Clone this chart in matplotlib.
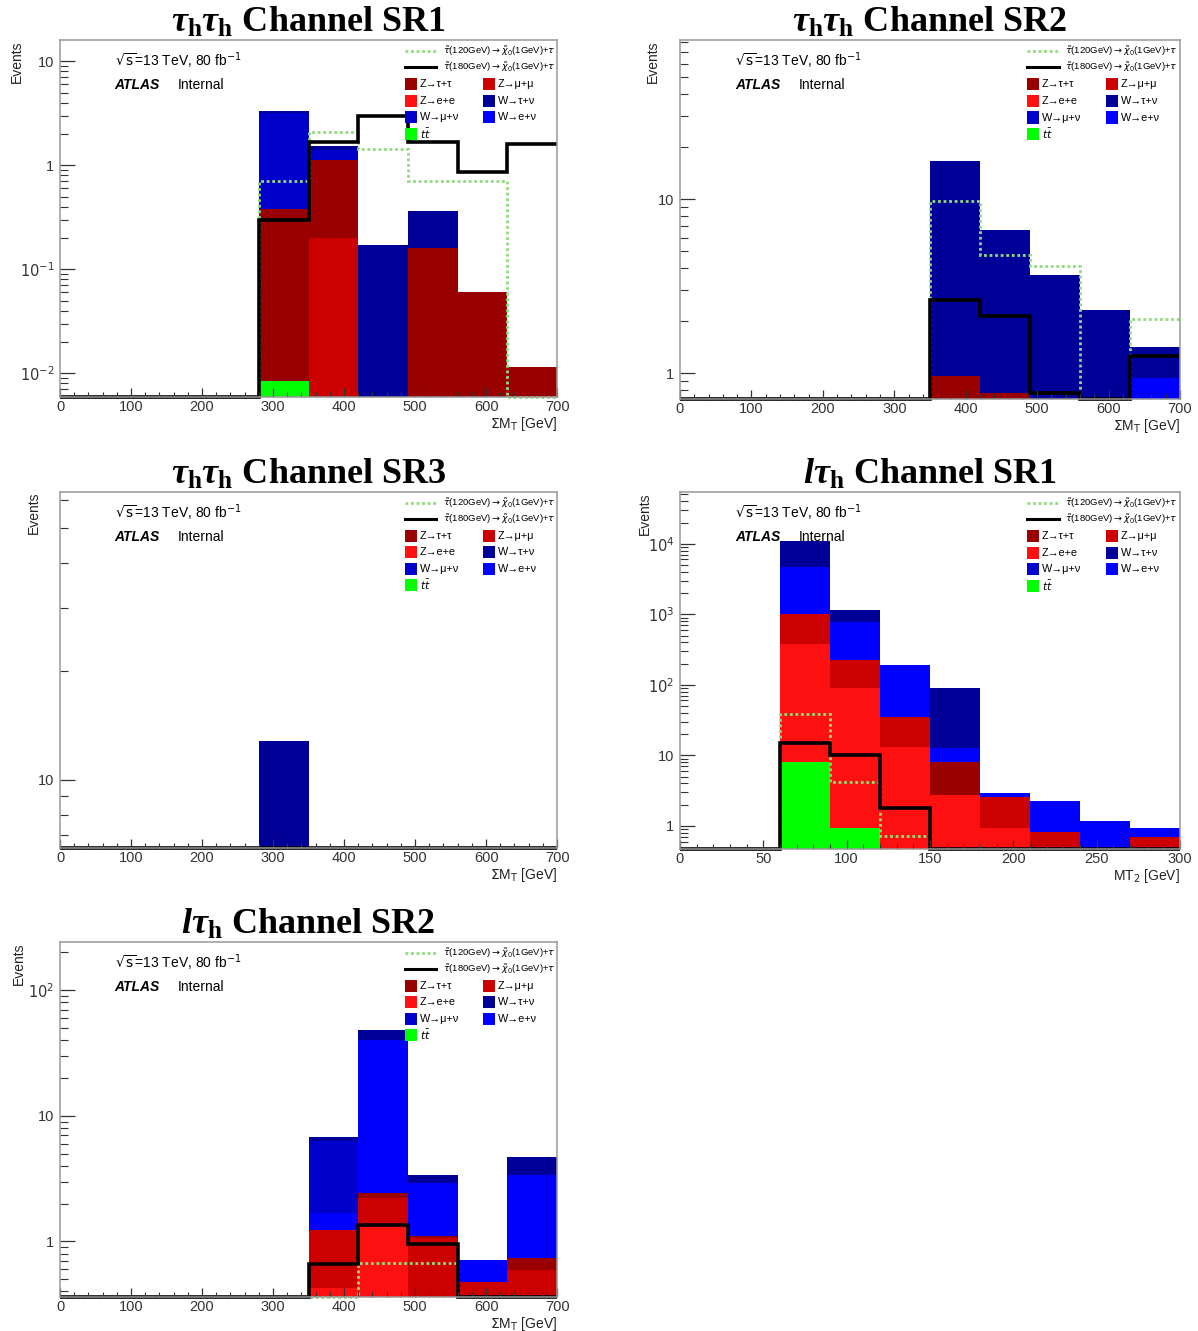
"""Stacked background + signal histograms, ATLAS internal style (5 panels)."""
import numpy as np
import matplotlib
matplotlib.use("Agg")
import matplotlib.pyplot as plt
from matplotlib.patches import Rectangle
from matplotlib.lines import Line2D
from matplotlib.ticker import LogLocator, FuncFormatter, NullFormatter, MultipleLocator

plt.rcParams["font.family"] = ["Liberation Sans", "DejaVu Sans"]
plt.rcParams["mathtext.fontset"] = "dejavusans"
# only used by the titles (math_fontfamily="custom")
plt.rcParams["mathtext.rm"] = "Liberation Serif:bold"
plt.rcParams["mathtext.it"] = "Liberation Serif:italic:bold"
plt.rcParams["mathtext.bf"] = "Liberation Serif:bold"

# ---------------------------------------------------------------- data
summt_edges = np.arange(0, 701, 70)   # ΣM_T binning
mt2_edges = np.arange(0, 301, 30)     # MT2 binning

# stack order bottom -> top: ttbar, Z->ee, Z->mumu, Z->tautau, W->enu, W->munu, W->taunu
# tau_h tau_h SR1
hh1_ttbar = [0, 0, 0, 0, 0.0085, 0, 0, 0, 0, 0]
hh1_zee = [0, 0, 0, 0, 0, 0, 0, 0, 0, 0]
hh1_zmumu = [0, 0, 0, 0, 0, 0.20, 0, 0, 0, 0]
hh1_ztautau = [0, 0, 0, 0, 0.37, 0.93, 0, 0.16, 0.060, 0.0114]
hh1_wenu = [0, 0, 0, 0, 0, 0, 0, 0, 0, 0]
hh1_wmunu = [0, 0, 0, 0, 2.77, 0.27, 0, 0, 0, 0]
hh1_wtaunu = [0, 0, 0, 0, 0.17, 0.12, 0.17, 0.20, 0, 0]
hh1_sig120 = [0, 0, 0, 0, 0.70, 2.10, 1.42, 0.70, 0.70, 0]
hh1_sig180 = [0, 0, 0, 0, 0.30, 1.67, 3.0, 1.67, 0.87, 1.60]

# tau_h tau_h SR2
hh2_ttbar = [0, 0, 0, 0, 0, 0, 0, 0, 0, 0]
hh2_zee = [0, 0, 0, 0, 0, 0, 0, 0, 0, 0]
hh2_zmumu = [0, 0, 0, 0, 0, 0, 0, 0, 0, 0]
hh2_ztautau = [0, 0, 0, 0, 0, 0.96, 0.77, 0, 0, 0]
hh2_wenu = [0, 0, 0, 0, 0, 0, 0, 0, 0, 0.94]
hh2_wmunu = [0, 0, 0, 0, 0, 0, 0, 0, 0, 0]
hh2_wtaunu = [0, 0, 0, 0, 0, 15.5, 5.9, 3.64, 2.31, 0.48]
hh2_sig120 = [0, 0, 0, 0, 0, 9.7, 4.8, 4.1, 0, 2.04]
hh2_sig180 = [0, 0, 0, 0, 0, 2.64, 2.12, 0.77, 0, 1.26]

# tau_h tau_h SR3
hh3_ttbar = [0, 0, 0, 0, 0, 0, 0, 0, 0, 0]
hh3_zee = [0, 0, 0, 0, 0, 0, 0, 0, 0, 0]
hh3_zmumu = [0, 0, 0, 0, 0, 0, 0, 0, 0, 0]
hh3_ztautau = [0, 0, 0, 0, 0, 0, 0, 0, 0, 0]
hh3_wenu = [0, 0, 0, 0, 0, 0, 0, 0, 0, 0]
hh3_wmunu = [0, 0, 0, 0, 0, 0, 0, 0, 0, 0]
hh3_wtaunu = [0, 0, 0, 0, 12.8, 0, 0, 0, 0, 0]
hh3_sig120 = [0, 0, 0, 0, 0, 0, 0, 0, 0, 0]
hh3_sig180 = [0, 0, 0, 0, 0, 0, 0, 0, 0, 0]

# l tau_h SR1 (MT2)
lh1_ttbar = [0, 0, 8.1, 0.93, 0, 0, 0, 0, 0, 0]
lh1_zee = [0, 0, 377, 88, 13.3, 2.75, 0.93, 0, 0, 0]
lh1_zmumu = [0, 0, 635, 139, 21.7, 0, 1.67, 0.83, 0, 0.69]
lh1_ztautau = [0, 0, 0, 0, 0, 5.35, 0, 0, 0, 0]
lh1_wenu = [0, 0, 3670, 552, 155, 4.5, 0.36, 1.45, 1.18, 0.24]
lh1_wmunu = [0, 0, 0, 0, 0, 0, 0, 0, 0, 0]
lh1_wtaunu = [0, 0, 6410, 360, 0, 76.4, 0, 0, 0, 0]
lh1_sig120 = [0, 0, 39, 4.24, 0.71, 0, 0, 0, 0, 0]
lh1_sig180 = [0, 0, 15.1, 10.0, 1.78, 0, 0, 0, 0, 0]

# l tau_h SR2
lh2_ttbar = [0, 0, 0, 0, 0, 0, 0, 0, 0, 0]
lh2_zee = [0, 0, 0, 0, 0, 0.43, 1.32, 0, 0, 0]
lh2_zmumu = [0, 0, 0, 0, 0, 0.81, 0.89, 1.06, 0.48, 0.595]
lh2_ztautau = [0, 0, 0, 0, 0, 0, 0.21, 0.05, 0, 0.142]
lh2_wenu = [0, 0, 0, 0, 0, 0.46, 37.6, 1.79, 0.235, 2.65]
lh2_wmunu = [0, 0, 0, 0, 0, 4.6, 0, 0, 0, 0]
lh2_wtaunu = [0, 0, 0, 0, 0, 0.5, 8.0, 0.49, 0, 1.35]
lh2_sig120 = [0, 0, 0, 0, 0, 0, 0.67, 0.67, 0, 0]
lh2_sig180 = [0, 0, 0, 0, 0, 0.66, 1.36, 0.96, 0, 0]

bkg_colors = ["#00ff00", "#ff1010", "#cc0000", "#990000", "#0000ff", "#0000cc", "#000099"]
legend_names = ["Z\u2192\u03c4+\u03c4", "Z\u2192\u03bc+\u03bc", "Z\u2192e+e", "W\u2192\u03c4+\u03bd",
                "W\u2192\u03bc+\u03bd", "W\u2192e+\u03bd", r"$t\bar{t}$"]
legend_colors = ["#990000", "#cc0000", "#ff1010", "#000099", "#0000cc", "#0000ff", "#00ff00"]
sig_green = "#8fdc7a"
label120 = r"$\tilde{\tau}$(120GeV)$\rightarrow\tilde{\chi}_0$(1GeV)+$\tau$"
label180 = r"$\tilde{\tau}$(180GeV)$\rightarrow\tilde{\chi}_0$(1GeV)+$\tau$"


def log_label(v, pos):
    n = int(round(np.log10(v)))
    if abs(v - 10.0 ** n) > 1e-6 * v:
        return ""
    if n == 0:
        return "1"
    if n == 1:
        return "10"
    return r"$10^{%d}$" % n


def draw_legend(ax):
    tr = ax.transAxes
    x0 = 0.694
    ax.add_line(Line2D([x0, x0 + 0.063], [0.969, 0.969], transform=tr, color=sig_green,
                       ls=(0, (1, 1)), lw=2))
    ax.add_line(Line2D([x0, x0 + 0.063], [0.924, 0.924], transform=tr, color="black", lw=2.2))
    ax.text(x0 + 0.076, 0.969, label120, transform=tr, fontsize=6.8, va="center")
    ax.text(x0 + 0.076, 0.924, label180, transform=tr, fontsize=6.8, va="center")
    for i, (name, col) in enumerate(zip(legend_names, legend_colors)):
        row, c = divmod(i, 2)
        x = x0 + c * 0.157
        y = 0.877 - row * 0.0465
        ax.add_patch(Rectangle((x, y - 0.017), 0.024, 0.034, transform=tr,
                               facecolor=col, edgecolor="none"))
        ax.text(x + 0.030, y, name, transform=tr, fontsize=7.8, va="center")


def draw_panel(rect, title, edges, comps, sig120, sig180, ylim, xlabel, ylab_x, xmajor, xminor):
    ax = fig.add_axes(rect)
    ax.set_yscale("log")
    width = np.diff(edges)
    bottom = np.zeros(len(edges) - 1)
    for vals, col in zip(comps, bkg_colors):
        vals = np.asarray(vals, float)
        ax.bar(edges[:-1], vals, width=width, bottom=bottom, align="edge",
               color=col, linewidth=0)
        bottom = bottom + vals
    ax.stairs(np.maximum(np.asarray(sig120, float), ylim[0]), edges, baseline=None,
              color=sig_green, ls=(0, (1, 1)), lw=2, clip_on=False)
    ax.stairs(np.maximum(np.asarray(sig180, float), ylim[0]), edges, baseline=None,
              color="black", lw=2.6, clip_on=False)

    ax.set_xlim(edges[0], edges[-1])
    ax.set_ylim(*ylim)
    ax.xaxis.set_major_locator(MultipleLocator(xmajor))
    ax.xaxis.set_minor_locator(MultipleLocator(xminor))
    ax.yaxis.set_major_locator(LogLocator(base=10))
    ax.yaxis.set_minor_locator(LogLocator(base=10, subs=np.arange(2, 10)))
    ax.yaxis.set_major_formatter(FuncFormatter(log_label))
    ax.yaxis.set_minor_formatter(NullFormatter())
    ax.tick_params(axis="x", which="major", direction="in", length=6.5, width=0.9,
                   labelsize=10.5, pad=2, colors="#333333")
    ax.tick_params(axis="x", which="minor", direction="in", length=3.3, width=0.8, colors="#333333")
    ax.tick_params(axis="y", which="major", direction="in", length=11, width=0.9,
                   labelsize=10.5, pad=4, colors="#333333")
    ax.tick_params(axis="y", which="minor", direction="in", length=5.5, width=0.8, colors="#333333")
    for sp in ax.spines.values():
        sp.set_color("#999999")
        sp.set_linewidth(1.1)

    ax.set_xlabel(xlabel, fontsize=10, loc="right", color="#222222")
    ax.xaxis.set_label_coords(1.0, -0.05)
    ax.set_ylabel("Events", fontsize=10, loc="top", color="#222222")
    ax.yaxis.set_label_coords(ylab_x, 1.0)

    ax.set_title(title, fontsize=26, fontfamily="Liberation Serif", fontweight="bold",
                 math_fontfamily="custom", pad=5)

    ax.text(0.11, 0.941, r"$\sqrt{\mathrm{s}}$=13 TeV, 80 fb$^{-1}$", transform=ax.transAxes,
            fontsize=10, va="center")
    ax.text(0.11, 0.874, "ATLAS", transform=ax.transAxes, fontsize=10, va="center",
            fontweight="bold", fontstyle="italic")
    ax.text(0.237, 0.874, "Internal", transform=ax.transAxes, fontsize=10, va="center")
    draw_legend(ax)
    return ax


fig = plt.figure(figsize=(11.98, 13.31), dpi=100)

sum_mt = r"$\Sigma$M$_\mathrm{T}$ [GeV]"
mt2 = r"MT$_2$ [GeV]"

draw_panel([0.0501, 0.7017, 0.4149, 0.2682], r"$\tau_{\rm h}\tau_{\rm h}$ Channel SR1",
           summt_edges,
           [hh1_ttbar, hh1_zee, hh1_zmumu, hh1_ztautau, hh1_wenu, hh1_wmunu, hh1_wtaunu],
           hh1_sig120, hh1_sig180, (0.0059, 16), sum_mt, -0.072, 100, 20)

draw_panel([0.5676, 0.7002, 0.4174, 0.2697], r"$\tau_{\rm h}\tau_{\rm h}$ Channel SR2",
           summt_edges,
           [hh2_ttbar, hh2_zee, hh2_zmumu, hh2_ztautau, hh2_wenu, hh2_wmunu, hh2_wtaunu],
           hh2_sig120, hh2_sig180, (0.71, 82), sum_mt, -0.04, 100, 20)

draw_panel([0.0501, 0.3629, 0.4149, 0.2675], r"$\tau_{\rm h}\tau_{\rm h}$ Channel SR3",
           summt_edges,
           [hh3_ttbar, hh3_zee, hh3_zmumu, hh3_ztautau, hh3_wenu, hh3_wmunu, hh3_wtaunu],
           hh3_sig120, hh3_sig180, (6.46, 63), sum_mt, -0.038, 100, 20)

draw_panel([0.5676, 0.3621, 0.4174, 0.2682], r"$l\tau_{\rm h}$ Channel SR1",
           mt2_edges,
           [lh1_ttbar, lh1_zee, lh1_zmumu, lh1_ztautau, lh1_wenu, lh1_wmunu, lh1_wtaunu],
           lh1_sig120, lh1_sig180, (0.47, 54000), mt2, -0.056, 50, 10)

draw_panel([0.0501, 0.0255, 0.4149, 0.2667], r"$l\tau_{\rm h}$ Channel SR2",
           summt_edges,
           [lh2_ttbar, lh2_zee, lh2_zmumu, lh2_ztautau, lh2_wenu, lh2_wmunu, lh2_wtaunu],
           lh2_sig120, lh2_sig180, (0.361, 242), sum_mt, -0.068, 100, 20)

fig.savefig("out.png", dpi=100)
